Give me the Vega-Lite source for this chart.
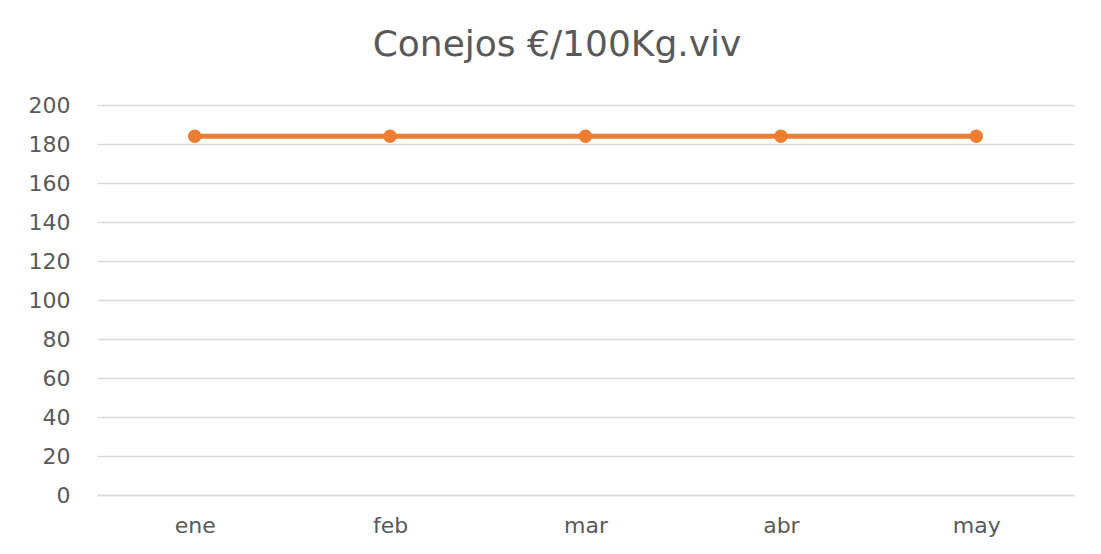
{
  "$schema": "https://vega.github.io/schema/vega-lite/v6.json",
  "autosize": {"type": "none"},
  "width": 977,
  "height": 390,
  "padding": {"left": 97, "top": 105, "right": 27, "bottom": 59},
  "background": "white",
  "title": {
    "text": "Conejos €/100Kg.viv",
    "font": "DejaVu Sans",
    "fontSize": 36,
    "fontWeight": "normal",
    "color": "#595959",
    "anchor": "middle",
    "frame": "bounds",
    "baseline": "alphabetic",
    "offset": 2,
    "dx": 6
  },
  "data": {
    "values": [
      {"mes": "ene", "valor": 184},
      {"mes": "feb", "valor": 184},
      {"mes": "mar", "valor": 184},
      {"mes": "abr", "valor": 184},
      {"mes": "may", "valor": 184}
    ]
  },
  "encoding": {
    "x": {
      "field": "mes",
      "type": "ordinal",
      "sort": null,
      "scale": {"type": "point", "padding": 0.5},
      "axis": {
        "title": null,
        "labelAngle": 0,
        "labelFont": "DejaVu Sans",
        "labelFontSize": 22,
        "labelColor": "#595959",
        "labelPadding": 20,
        "ticks": false,
        "domain": true,
        "domainColor": "#d9d9d9",
        "domainWidth": 1.5,
        "grid": false
      }
    },
    "y": {
      "field": "valor",
      "type": "quantitative",
      "scale": {"domain": [0, 200], "nice": false},
      "axis": {
        "title": null,
        "values": [0, 20, 40, 60, 80, 100, 120, 140, 160, 180, 200],
        "labelFont": "DejaVu Sans",
        "labelFontSize": 22,
        "labelColor": "#595959",
        "labelPadding": 27,
        "ticks": false,
        "domain": false,
        "grid": true,
        "gridColor": "#d9d9d9",
        "gridWidth": 1.5
      }
    }
  },
  "layer": [
    {"mark": {"type": "line", "color": "#ED7D31", "strokeWidth": 5}},
    {"mark": {"type": "point", "filled": true, "color": "#ED7D31", "opacity": 1, "size": 180}}
  ],
  "config": {"view": {"stroke": null}}
}
